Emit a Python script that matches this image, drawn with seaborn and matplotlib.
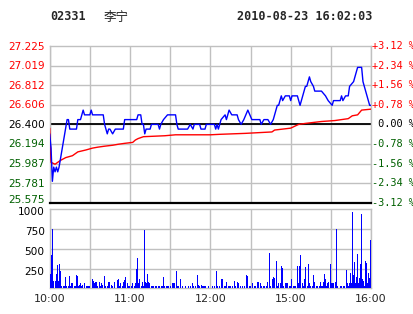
import numpy as np
import pandas as pd
import matplotlib
matplotlib.use("Agg")
import matplotlib.pyplot as plt
import matplotlib.transforms as mtrans
import seaborn as sns

# ---------------- data ----------------
stock_code = "02331"
stock_name = "李宁"
stamp = "2010-08-23 16:02:03"
prev_close = 26.400
price_ticks = [27.225, 27.019, 26.812, 26.606, 26.400, 26.194, 25.987, 25.781, 25.575]
pct_labels = ["+3.12 %", "+2.34 %", "+1.56 %", "+0.78 %", " 0.00 %",
              "-0.78 %", "-1.56 %", "-2.34 %", "-3.12 %"]
vol_ticks = [250, 500, 750, 1000]
time_labels = ["10:00", "11:00", "12:00", "15:00", "16:00"]
time_label_min = [0, 60, 120, 180, 240]
grid_min = [0, 30, 60, 90, 120, 150, 180, 210, 240]

# minutes since 10:00 (lunch break removed) and last price
price_t = [0, 1, 2, 3, 4, 5, 6, 7, 13, 14, 15, 20, 21, 23, 25, 26, 30, 31, 32, 40,
           41, 43, 44, 45, 47, 49, 55, 56, 65, 66, 68, 69, 70, 71, 72, 75, 76, 81, 82, 83,
           85, 88, 94, 95, 96, 103, 105, 107, 108, 112, 113, 116, 117, 123, 124, 125, 126, 127, 128, 131,
           132, 134, 136, 140, 141, 143, 145, 148, 151, 157, 158, 160, 163, 165, 167, 168, 170, 171, 173, 174,
           176, 179, 180, 181, 185, 187, 188, 191, 192, 194, 195, 197, 198, 203, 206, 208, 211, 212, 217, 218,
           219, 221, 223, 224, 227, 228, 230, 232, 233, 234, 236, 238, 239, 240]
price = [26.30, 26.15, 25.80, 25.95, 25.90, 25.95, 25.90, 25.95, 26.45, 26.45, 26.35, 26.35, 26.45, 26.45, 26.55, 26.50, 26.50, 26.55, 26.50, 26.50,
         26.40, 26.30, 26.35, 26.35, 26.30, 26.35, 26.35, 26.45, 26.45, 26.50, 26.50, 26.40, 26.40, 26.30, 26.35, 26.35, 26.40, 26.40, 26.35, 26.40,
         26.45, 26.50, 26.50, 26.40, 26.35, 26.35, 26.40, 26.35, 26.40, 26.40, 26.35, 26.35, 26.40, 26.40, 26.35, 26.40, 26.35, 26.40, 26.45, 26.50,
         26.45, 26.55, 26.50, 26.50, 26.45, 26.40, 26.45, 26.55, 26.45, 26.45, 26.40, 26.45, 26.45, 26.40, 26.45, 26.50, 26.60, 26.60, 26.70, 26.65,
         26.70, 26.70, 26.65, 26.70, 26.70, 26.60, 26.65, 26.80, 26.80, 26.90, 26.85, 26.80, 26.75, 26.75, 26.70, 26.65, 26.60, 26.65, 26.65, 26.70,
         26.65, 26.70, 26.70, 26.80, 26.85, 26.90, 27.00, 27.00, 27.00, 26.85, 26.75, 26.65, 26.60, 26.60]

# average price
avg_t = [0, 1, 4, 6, 8, 12, 17, 21, 24, 27, 32, 36, 41, 47, 51, 56, 62, 64, 66, 70,
         86, 94, 120, 127, 146, 166, 168, 174, 180, 186, 191, 203, 213, 223, 226, 230, 233, 240]
avg = [26.36, 26.00, 25.98, 26.00, 26.02, 26.05, 26.07, 26.11, 26.12, 26.13, 26.15, 26.16, 26.17, 26.18, 26.19, 26.20, 26.21, 26.235, 26.25, 26.27,
       26.28, 26.29, 26.29, 26.295, 26.305, 26.32, 26.34, 26.35, 26.36, 26.40, 26.41, 26.43, 26.44, 26.46, 26.49, 26.50, 26.55, 26.56]

# volume bars (minute, volume)
vol_t = [0.25, 1.5, 2.25, 3.0, 4.25, 5.0, 5.75, 6.5, 7.25, 8.0, 8.75, 10.0, 10.75, 11.75, 12.75, 14.0, 14.75, 15.5, 16.25, 17.0,
         18.25, 19.0, 19.75, 20.5, 21.75, 22.5, 23.25, 24.0, 24.75, 26.0, 27.25, 28.25, 29.25, 30.0, 31.75, 32.5, 33.25, 34.25, 35.0, 36.0,
         37.0, 37.75, 38.5, 39.75, 41.0, 42.0, 43.0, 44.25, 45.0, 46.5, 47.25, 48.25, 50.5, 51.5, 52.25, 53.25, 54.25, 55.25, 56.0, 56.75,
         57.75, 58.75, 59.75, 60.75, 62.0, 63.25, 64.25, 65.0, 65.5, 66.25, 67.25, 68.25, 69.0, 70.0, 70.75, 71.5, 72.5, 73.25, 74.0, 74.75,
         75.75, 76.5, 77.75, 79.25, 80.0, 81.25, 82.25, 83.25, 84.25, 85.25, 86.0, 87.0, 87.75, 89.0, 90.25, 91.5, 92.25, 93.0, 94.5, 95.25,
         96.5, 97.75, 99.0, 101.5, 104.0, 105.25, 106.5, 107.75, 109.0, 110.25, 111.25, 112.25, 113.25, 114.0, 114.75, 115.5, 116.25,
         118.5, 121.7, 123.0, 124.7, 125.4, 126.7, 128.4, 129.2, 130.4, 131.6, 132.4, 133.4, 134.4, 135.4, 136.6, 137.8, 138.8, 140.3, 141.1,
         142.3, 143.8, 145.3, 147.3, 148.0, 149.2, 150.2, 151.7, 152.7, 154.0, 155.2, 155.9, 157.2, 158.2, 159.4, 160.7, 161.6, 162.6, 164.4, 165.1,
         166.6, 167.4, 168.1, 169.3, 170.1, 171.1, 172.3, 173.1, 173.8, 174.8, 176.0, 177.0, 178.0, 178.8, 179.8, 180.7, 182.0, 183.0, 183.7, 185.0,
         186.0, 186.9, 187.7, 188.7, 189.7, 190.7, 191.4, 192.4, 193.1, 193.9, 194.9, 196.4, 197.1, 197.9, 199.1, 200.1, 201.3, 202.1, 202.8, 203.8,
         204.8, 205.3, 206.0, 206.8, 207.8, 208.5, 209.5, 210.5, 211.2, 212.2, 213.2, 214.2, 215.0, 217.4, 218.2, 219.2, 219.9, 221.7, 222.4, 223.4,
         224.1, 224.9, 225.6, 226.1, 226.9, 227.6, 228.4, 229.4, 230.1, 230.8, 231.6, 232.3, 233.1, 233.8, 234.6, 235.3, 236.0, 236.8, 237.5, 238.3,
         239.0, 239.8]
vol = [181, 422, 747, 93, 93, 181, 295, 93, 308, 219, 30, 30, 30, 139, 30, 30, 156, 30, 63, 63,
       30, 30, 165, 156, 30, 42, 63, 30, 42, 63, 30, 30, 30, 30, 118, 93, 63, 80, 80, 30,
       80, 30, 63, 42, 156, 30, 30, 80, 80, 42, 30, 80, 105, 114, 30, 63, 30, 80, 105, 139,
       63, 30, 30, 30, 63, 30, 63, 240, 380, 63, 114, 30, 80, 30, 738, 80, 63, 181, 80, 63,
       30, 30, 30, 30, 30, 30, 30, 30, 30, 139, 30, 30, 30, 30, 30, 63, 63, 63, 219, 30,
       30, 114, 30, 30, 30, 30, 63, 30, 30, 165, 42, 30, 42, 30, 30, 30, 30,
       30, 30, 30, 224, 30, 30, 118, 118, 30, 30, 80, 30, 30, 30, 30, 93, 30, 80, 63,
       30, 30, 30, 169, 156, 30, 30, 63, 30, 30, 80, 80, 63, 30, 30, 30, 30, 80, 451, 30,
       118, 139, 127, 346, 30, 63, 63, 283, 253, 30, 63, 63, 63, 30, 30, 118, 30, 30, 30, 283,
       63, 283, 422, 63, 30, 118, 274, 30, 304, 63, 30, 30, 169, 80, 30, 30, 30, 80, 30, 30,
       80, 177, 114, 30, 63, 80, 308, 63, 63, 63, 80, 747, 30, 30, 30, 30, 30, 232, 63, 30,
       63, 198, 63, 962, 169, 333, 63, 139, 435, 63, 127, 308, 941, 114, 93, 30, 346, 325, 63, 198,
       135, 612]

# ---------------- style ----------------
sns.set_style("white")
plt.rcParams["font.family"] = ["DejaVu Sans", "Noto Sans CJK SC"]

RED = "#ff0000"
GREEN = "#006000"
BLUE = "#0000ff"
GRID = "#c0c0c0"

W, H = 414, 314
fig = plt.figure(figsize=(W / 100, H / 100), dpi=100)
fig.patch.set_facecolor("white")

L, R = 49.7, 371.0
ax = fig.add_axes([L / W, 1 - 202.7 / H, (R - L) / W, (202.7 - 46.0) / H])
axv = fig.add_axes([L / W, 1 - 288.3 / H, (R - L) / W, (288.3 - 209.3) / H])


def side_label(axis, y, text, color, dy_px, side="left", **kw):
    """Label at data height y, just outside the axis, shifted dy_px pixels down."""
    trans = mtrans.blended_transform_factory(axis.transAxes, axis.transData)
    if side == "left":
        x, dx, ha = 0.0, -5, "right"
    else:
        x, dx, ha = 1.0, 1, "left"
    axis.annotate(text, xy=(x, y), xycoords=trans, xytext=(dx, -dy_px),
                  textcoords="offset pixels", ha=ha, va="center", color=color,
                  annotation_clip=False, **kw)


def level_color(p):
    if abs(p - prev_close) < 1e-9:
        return "black"
    return RED if p > prev_close else GREEN


# ---------------- price panel ----------------
ax.set_xlim(0, 240)
ax.set_ylim(price_ticks[-1], price_ticks[0])
for m in grid_min:
    ax.axvline(m, color=GRID, lw=1.0, zorder=0)
for p in price_ticks[1:-1]:
    ax.axhline(p, color=GRID, lw=1.0, zorder=0)
ax.axhline(prev_close, color="black", lw=1.3, zorder=1)

sns.lineplot(x=avg_t, y=avg, ax=ax, color=RED, linewidth=1.0, zorder=3)
sns.lineplot(x=price_t, y=price, ax=ax, color=BLUE, linewidth=1.0, zorder=4)

ax.set_yticks([])
ax.set_xticks([])
ax.set_xlabel("")
ax.set_ylabel("")
n = len(price_ticks)
for i, p in enumerate(price_ticks):
    dy = 1.5 if i == 0 else (-2.5 if i == n - 1 else 0.5)
    side_label(ax, p, f"{p:.3f}", level_color(p), dy, fontsize=7.6)
for p, lab in zip(price_ticks, pct_labels):
    side_label(ax, p, lab, level_color(p), 0, side="right",
               fontsize=7.4, family="DejaVu Sans Mono")
for s in ["left", "top", "right"]:
    ax.spines[s].set_color(GRID)
    ax.spines[s].set_linewidth(1.0)
ax.spines["bottom"].set_color("black")
ax.spines["bottom"].set_linewidth(1.6)

# ---------------- volume panel ----------------
vdf = pd.DataFrame({"t": vol_t, "v": vol})
min_gap = float(np.min(np.diff(np.sort(vdf["t"].values))))
sns.barplot(data=vdf, x="t", y="v", ax=axv, native_scale=True, color=BLUE,
            saturation=1, errorbar=None, width=0.75 / min_gap, linewidth=0, zorder=3)
for patch in axv.patches:
    patch.set_antialiased(False)
axv.set_xlim(0, 240)
axv.set_ylim(0, 1000)
for m in grid_min:
    axv.axvline(m, color=GRID, lw=1.0, zorder=0)
for v in vol_ticks[:-1]:
    axv.axhline(v, color=GRID, lw=1.0, zorder=0)
axv.set_yticks([])
for v in vol_ticks:
    side_label(axv, v, str(v), "black", 3.0, fontsize=7.6)
axv.set_xticks(time_label_min)
axv.set_xticklabels(time_labels, fontsize=8)
axv.tick_params(axis="x", length=0, pad=4)
axv.set_xlabel("")
axv.set_ylabel("")
for s in axv.spines.values():
    s.set_color(GRID)
    s.set_linewidth(1.0)

# ---------------- header ----------------
fig.text(50 / W, 1 - 17 / H, stock_code, ha="left", va="center", fontsize=8.5,
         family="DejaVu Sans Mono", weight="bold")
fig.text(104 / W, 1 - 17 / H, stock_name, ha="left", va="center", fontsize=9,
         family=["Noto Sans CJK SC", "DejaVu Sans"])
fig.text(237 / W, 1 - 17 / H, stamp, ha="left", va="center", fontsize=8.5,
         family="DejaVu Sans Mono", weight="bold")

fig.savefig("out.png", dpi=100, facecolor="white")
